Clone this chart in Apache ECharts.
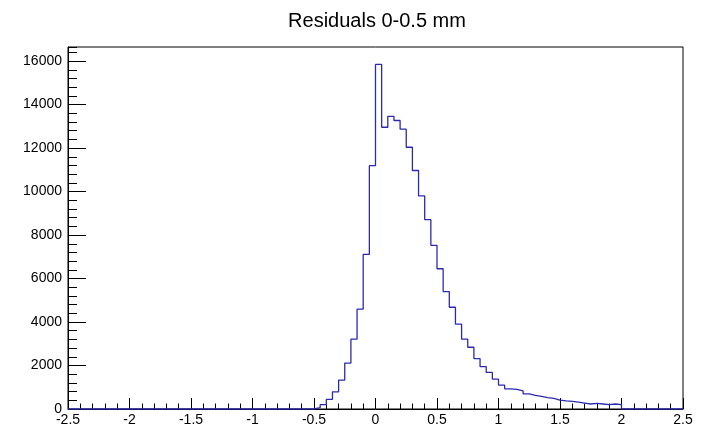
<!DOCTYPE html>
<html>
<head>
<meta charset="utf-8">
<script src="https://cdn.jsdelivr.net/npm/echarts@6/dist/echarts.min.js"></script>
<style>
  html, body { margin: 0; padding: 0; background: #fff; }
  #chart { width: 701px; height: 427px; }
</style>
</head>
<body>
<div id="chart"></div>
<script>
// Histogram definition
const titleText = 'Residuals 0-0.5 mm';
const binLow = -2.5;
const binWidth = 0.05;
const counts = [
  0,0,0,0,0,0,0,0,0,0,
  0,0,0,0,0,0,0,0,0,0,
  0,0,0,0,0,0,0,0,0,0,
  0,0,0,0,0,0,0,0,0,0,
  60, 200, 440, 790, 1330, 2110, 3210, 4590, 7110, 11190,
  15850, 12960, 13460, 13270, 12870, 12040, 10970, 9800, 8710, 7530,
  6450, 5400, 4680, 3900, 3210, 2840, 2320, 1950, 1680, 1370,
  1100, 930, 900, 830, 700, 630, 580, 520, 490, 410,
  370, 350, 320, 275, 230, 260, 230, 200, 230, 200,
  0,0,0,0,0,0,0,0,0,0
];
const xMin = -2.5, xMax = 2.5, xMajor = 0.5;
const yMin = 0, yMax = 16650, yMajor = 2000, yMinor = 400;

// Build step data at bin low edges, plus closing point at the upper edge
const stepData = counts.map((c, i) => [binLow + i * binWidth, c]);
stepData.push([binLow + counts.length * binWidth, counts[counts.length - 1]]);

const chart = echarts.init(document.getElementById('chart'), null, { renderer: 'canvas' });
const font = '"Liberation Sans", Arial, Helvetica, sans-serif';
const fmtX = v => String(Math.round(v * 10) / 10);

chart.setOption({
  animation: false,
  backgroundColor: '#fff',
  title: {
    text: titleText,
    left: 372,
    top: 6,
    textAlign: 'center',
    textStyle: { fontFamily: font, fontSize: 20, fontWeight: 'normal', color: '#000' }
  },
  grid: {
    left: 68, right: 18, top: 47, bottom: 17,
    show: true, borderColor: '#000', borderWidth: 1, backgroundColor: 'transparent'
  },
  xAxis: {
    type: 'value',
    min: xMin, max: xMax, interval: xMajor,
    axisLine: { show: true, onZero: false, lineStyle: { color: '#000', width: 1 } },
    axisTick: { show: true, inside: true, length: 11, lineStyle: { color: '#000' } },
    minorTick: { show: true, splitNumber: 5, length: 5.5, lineStyle: { color: '#000' } },
    splitLine: { show: false },
    axisLabel: {
      show: true, margin: 4, fontFamily: font, fontSize: 14, color: '#000',
      formatter: fmtX, showMinLabel: true, showMaxLabel: true
    }
  },
  yAxis: [
    {
      type: 'value',
      position: 'left',
      min: yMin, max: yMax, interval: yMajor,
      axisLine: { show: true, onZero: false, lineStyle: { color: '#000', width: 1 } },
      axisTick: { show: true, inside: true, length: 18, lineStyle: { color: '#000' } },
      splitLine: { show: false },
      axisLabel: {
        show: true, margin: 6, fontFamily: font, fontSize: 14, color: '#000',
        showMaxLabel: false,
        formatter: v => (v % yMajor === 0 ? String(v) : '')
      }
    },
    {
      type: 'value',
      position: 'left',
      min: yMin, max: yMax, interval: yMinor,
      axisLine: { show: false, onZero: false },
      axisTick: { show: true, inside: true, length: 9, lineStyle: { color: '#000' } },
      splitLine: { show: false },
      axisLabel: { show: false }
    }
  ],
  series: [{
    type: 'line',
    step: 'end',
    data: stepData,
    yAxisIndex: 0,
    showSymbol: false,
    symbol: 'none',
    silent: true,
    lineStyle: { color: '#2a2ab0', width: 1.3 },
    z: 3
  }]
});
</script>
</body>
</html>
